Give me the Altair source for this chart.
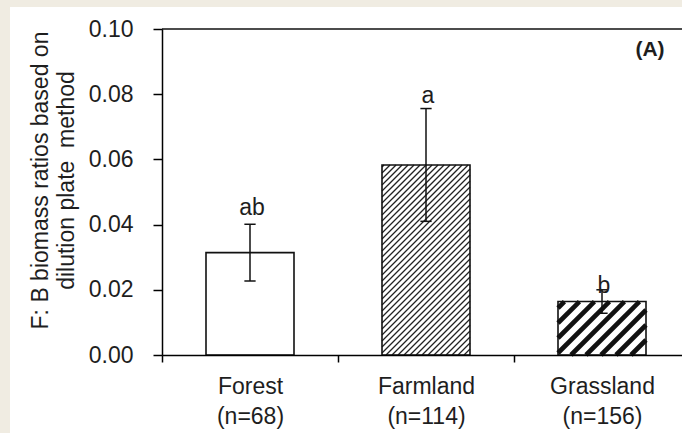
import altair as alt
import numpy as np
import pandas as pd

# ---- data ----
categories = ["Forest", "Farmland", "Grassland"]
n_labels = ["(n=68)", "(n=114)", "(n=156)"]
means = [0.0314, 0.0583, 0.0164]
errors = [0.0087, 0.0173, 0.0036]
letters = ["ab", "a", "b"]
letter_y = [0.0428, 0.0774, 0.0190]
y_ticks = [0.00, 0.02, 0.04, 0.06, 0.08, 0.10]
hatch_style = ["none", "fine", "coarse"]

# ---- layout ----
W, H = 520, 326
XMIN = 0.5
PX_PER_CAT = 176.0
XMAX = XMIN + W / PX_PER_CAT
YMAX = 0.10
PX_PER_Y = H / YMAX
BAR_HALF = 0.25
CAP_HALF = 0.032
FONT = "Liberation Sans"
FS = 23
INK = "#1e1e1e"

pos = [i + 1 for i in range(len(categories))]

bars = pd.DataFrame({
    "cat": categories,
    "x0": [p - BAR_HALF for p in pos],
    "x1": [p + BAR_HALF for p in pos],
    "xc": pos,
    "mean": means,
    "lo": [m - e for m, e in zip(means, errors)],
    "hi": [m + e for m, e in zip(means, errors)],
    "zero": [0.0] * len(pos),
    "letter": letters,
    "ly": letter_y,
})
bars["c0"] = bars["xc"] - CAP_HALF
bars["c1"] = bars["xc"] + CAP_HALF


def hatch_segments(xc, top, spacing):
    """45-degree '/' hatch lines clipped to the bar rectangle (pixel space)."""
    xl = (xc - BAR_HALF - XMIN) * PX_PER_CAT
    xr = (xc + BAR_HALF - XMIN) * PX_PER_CAT
    yb, yt = 0.0, top * PX_PER_Y
    segs = []
    c = yb - xr
    while c < yt - xl:
        us = max(xl, yb - c)
        ue = min(xr, yt - c)
        if ue > us:
            segs.append({
                "hx0": us / PX_PER_CAT + XMIN, "hy0": (us + c) / PX_PER_Y,
                "hx1": ue / PX_PER_CAT + XMIN, "hy1": (ue + c) / PX_PER_Y,
            })
        c += spacing
    return pd.DataFrame(segs)


fine = pd.concat([hatch_segments(p, m, 6.0) for p, m, s in zip(pos, means, hatch_style) if s == "fine"])
coarse = pd.concat([hatch_segments(p, m, 15.0) for p, m, s in zip(pos, means, hatch_style) if s == "coarse"])

label_map = " : ".join(
    f"datum.value == {p} ? ['{c}', '{n}']" for p, c, n in zip(pos, categories, n_labels)
) + " : ''"

x_axis = alt.Axis(
    values=[0.5, 1, 1.5, 2, 2.5, 3],
    labelExpr=label_map,
    tickOpacity={"condition": {"test": "datum.value % 1 === 0", "value": 0}, "value": 1},
    grid=False, domainColor="black", domainWidth=1.5, tickColor="black", tickWidth=1.5,
    tickSize=7, labelPadding=13, labelFont=FONT, labelFontSize=FS, labelColor=INK,
    labelLineHeight=30, labelOverlap=False, labelBound=False, labelFlush=False,
    title=None, zindex=2,
)
y_axis = alt.Axis(
    values=y_ticks, format=".2f", grid=False, domainColor="black", domainWidth=1.5,
    tickColor="black", tickWidth=1.5, tickSize=9, labelPadding=20,
    labelFont=FONT, labelFontSize=FS, labelColor=INK,
    title=["F: B biomass ratios based on", "dilution plate\u00a0 method"],
    titleFont=FONT, titleFontSize=FS, titleFontWeight="normal", titleColor=INK,
    titleLineHeight=26, titleX=-122, titleY=151, titleAngle=-90,
    titleAlign="center", titleBaseline="middle", zindex=2,
)
xs = alt.Scale(domain=[XMIN, XMAX], nice=False, zero=False)
ys = alt.Scale(domain=[0, YMAX], nice=False)


def X(f):
    return alt.X(f, type="quantitative", scale=xs, axis=x_axis)


def Y(f):
    return alt.Y(f, type="quantitative", scale=ys, axis=y_axis)


one = pd.DataFrame({"top": [YMAX]})

panel = alt.Chart(one).mark_rect(fill="white").encode(
    x=alt.value(-152), x2=alt.value(W), y=alt.value(-22), y2=alt.value(H + 78)
)
bar_fill = alt.Chart(bars).mark_rect(fill="white").encode(
    x=X("x0"), x2="x1", y=Y("mean"), y2="zero"
)
hatch_fine = alt.Chart(fine).mark_rule(color="#222", strokeWidth=1.3).encode(
    x=X("hx0"), x2="hx1", y=Y("hy0"), y2="hy1"
)
hatch_coarse = alt.Chart(coarse).mark_rule(color="#111", strokeWidth=4.6).encode(
    x=X("hx0"), x2="hx1", y=Y("hy0"), y2="hy1"
)
bar_outline = alt.Chart(bars).mark_rect(fillOpacity=0, stroke="#111", strokeWidth=1.6).encode(
    x=X("x0"), x2="x1", y=Y("mean"), y2="zero"
)
err_line = alt.Chart(bars).mark_rule(color="#111", strokeWidth=1.5).encode(
    x=X("xc"), y=Y("lo"), y2="hi"
)
cap_hi = alt.Chart(bars).mark_rule(color="#111", strokeWidth=1.5).encode(
    x=X("c0"), x2="c1", y=Y("hi")
)
cap_lo = alt.Chart(bars).mark_rule(color="#111", strokeWidth=1.5).encode(
    x=X("c0"), x2="c1", y=Y("lo")
)
top_line = alt.Chart(one).mark_rule(color="#111", strokeWidth=1.5).encode(y=Y("top"))
letter_text = alt.Chart(bars).mark_text(
    font=FONT, fontSize=FS, color=INK, baseline="alphabetic", align="center", dx=2
).encode(x=X("xc"), y=Y("ly"), text="letter")
panel_label = alt.Chart(one).mark_text(
    text="(A)", font=FONT, fontSize=21, fontWeight="bold", color=INK,
    align="center", baseline="middle"
).encode(x=alt.value(488), y=alt.value(21))

chart = alt.layer(
    panel, bar_fill, hatch_fine, hatch_coarse, bar_outline,
    err_line, cap_hi, cap_lo, top_line, letter_text, panel_label
).properties(
    width=W, height=H,
    autosize=alt.AutoSizeParams(type="none"),
    padding={"left": 162, "top": 29, "right": 0, "bottom": 78},
    background="#f0ece2",
).configure_view(stroke=None)

chart.save("out.html", embed_options={"renderer": "svg", "actions": False})
